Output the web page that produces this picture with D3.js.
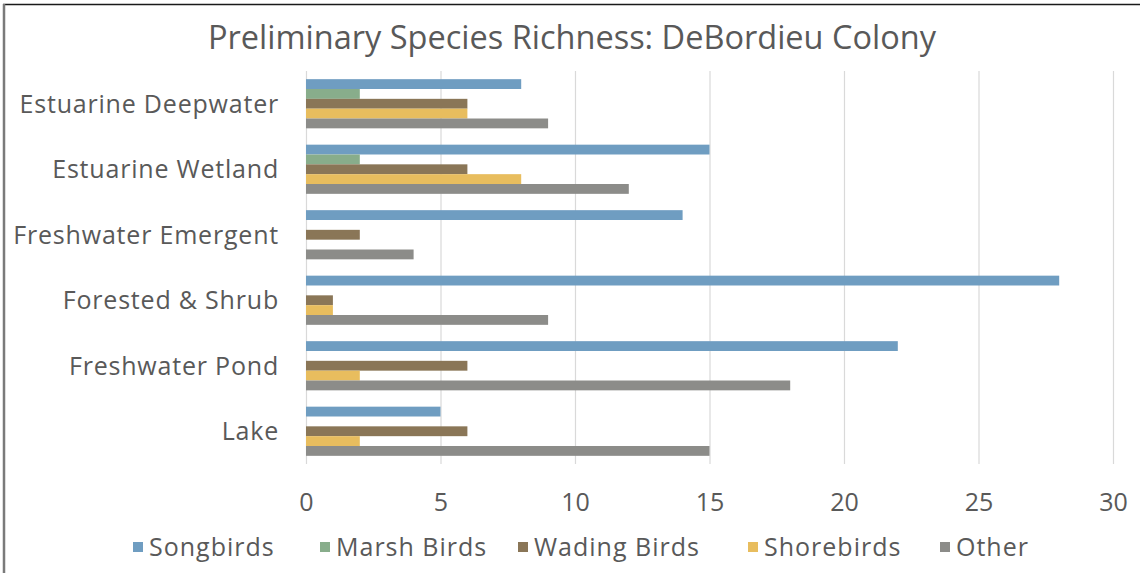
<!DOCTYPE html>
<html>
<head>
<meta charset="utf-8">
<script src="https://cdn.jsdelivr.net/npm/d3@7"></script>
<style>
  html, body { margin: 0; padding: 0; background: #fff; }
  svg { display: block; }
</style>
</head>
<body>
<svg id="chart" width="1140" height="573"></svg>
<script>
// Habitat categories, top to bottom
const categories = ["Estuarine Deepwater", "Estuarine Wetland", "Freshwater Emergent", "Forested & Shrub", "Freshwater Pond", "Lake"];
// Bird groups (series)
const seriesNames = ["Songbirds", "Marsh Birds", "Wading Birds", "Shorebirds", "Other"];
// Species counts per habitat, one array per bird group
const songbirds   = [8, 15, 14, 28, 22, 5];
const marshBirds  = [2, 2, 0, 0, 0, 0];
const wadingBirds = [6, 6, 2, 1, 6, 6];
const shorebirds  = [6, 8, 0, 1, 2, 2];
const other       = [9, 12, 4, 9, 18, 15];
// Value axis ticks
const xTicks = [0, 5, 10, 15, 20, 25, 30];

const seriesValues = [songbirds, marshBirds, wadingBirds, shorebirds, other];
const colors = ["#6f9dc1", "#88ad8b", "#8a7657", "#e8bd5e", "#8c8c89"];
const textColor = "#595959";
const labelFont = "'Open Sans', 'Liberation Sans', sans-serif";
const labelSize = 25;
const labelSpacing = 0.8;

const rows = categories.map((c, i) => ({
  category: c,
  values: seriesNames.map((s, j) => ({ series: s, value: seriesValues[j][i], color: colors[j] }))
}));

const svg = d3.select("#chart");

// frame lines along the top and left edges
svg.append("line").attr("x1", 3).attr("x2", 1140).attr("y1", 4.5).attr("y2", 4.5)
  .attr("stroke", "#1a1a1a").attr("stroke-width", 1.5);
svg.append("line").attr("x1", 4).attr("x2", 4).attr("y1", 4).attr("y2", 573)
  .attr("stroke", "#7a7a7a").attr("stroke-width", 2.5);

const x = d3.scaleLinear().domain([0, 30]).range([306, 1113]);
const y = d3.scaleBand().domain(categories).range([71, 464]).padding(0);
const y1 = d3.scaleBand().domain(seriesNames).range([0, y.bandwidth()]).paddingOuter(0.83).paddingInner(0);

// vertical gridlines
svg.append("g")
  .selectAll("line")
  .data(xTicks)
  .join("line")
  .attr("x1", d => x(d) + 0.5).attr("x2", d => x(d) + 0.5)
  .attr("y1", 71).attr("y2", 464)
  .attr("stroke", "#d9d9d9").attr("stroke-width", 1.2);

// bars
const groups = svg.append("g")
  .selectAll("g")
  .data(rows)
  .join("g")
  .attr("transform", d => `translate(0,${y(d.category)})`);

groups.selectAll("rect")
  .data(d => d.values.filter(v => v.value > 0))
  .join("rect")
  .attr("x", x(0))
  .attr("y", d => y1(d.series))
  .attr("width", d => x(d.value) - x(0))
  .attr("height", y1.bandwidth())
  .attr("fill", d => d.color);

// value axis labels
const xAxis = d3.axisBottom(x).tickValues(xTicks).tickSize(0).tickPadding(0);
const gx = svg.append("g").attr("transform", "translate(0,493)").call(xAxis);
gx.select(".domain").remove();
gx.selectAll("text")
  .attr("fill", textColor)
  .attr("font-family", labelFont)
  .attr("font-size", labelSize)
  .attr("dy", "0.7em");

// category axis labels
const yAxis = d3.axisLeft(y).tickSize(0).tickPadding(0);
const gy = svg.append("g").attr("transform", "translate(279,0)").call(yAxis);
gy.select(".domain").remove();
gy.selectAll("text")
  .attr("fill", textColor)
  .attr("font-family", labelFont)
  .attr("font-size", labelSize)
  .attr("letter-spacing", labelSpacing)
  .attr("dy", "0.35em");

// title
svg.append("text")
  .attr("x", 572).attr("y", 49)
  .attr("text-anchor", "middle")
  .attr("fill", textColor)
  .attr("font-family", labelFont)
  .attr("font-size", 32.5)
  .text("Preliminary Species Richness: DeBordieu Colony");

// legend
const legendPos = [133, 320, 518, 748, 940];
const legend = svg.append("g")
  .selectAll("g")
  .data(seriesNames)
  .join("g")
  .attr("transform", (d, i) => `translate(${legendPos[i]},547)`);
legend.append("rect")
  .attr("x", 0).attr("y", -5).attr("width", 10).attr("height", 10)
  .attr("fill", (d, i) => colors[i]);
legend.append("text")
  .attr("x", 16).attr("y", 0).attr("dy", "0.35em")
  .attr("fill", textColor)
  .attr("font-family", labelFont)
  .attr("font-size", labelSize)
  .attr("letter-spacing", 1)
  .text(d => d);
</script>
</body>
</html>
